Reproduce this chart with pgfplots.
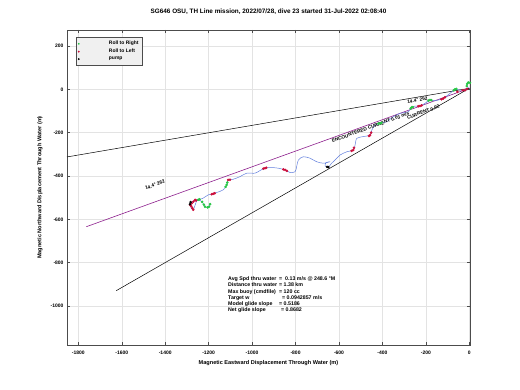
\documentclass[border=0pt]{standalone}
\usepackage{pgfplots}
\pgfplotsset{compat=1.18}
\usepackage{fontspec}
\setmainfont{Liberation Sans}
\definecolor{trk}{RGB}{95,125,220}
\definecolor{rollL}{RGB}{205,15,60}
\definecolor{rollR}{RGB}{40,200,70}
\definecolor{purp}{RGB}{140,30,140}
\begin{document}
\begin{tikzpicture}
\begin{axis}[
  at={(0,0)}, anchor=south west,
  scale only axis, width=403bp, height=315bp,
  xmin=-1852, xmax=3, ymin=-1180, ymax=274,
  xtick={-1800,-1600,-1400,-1200,-1000,-800,-600,-400,-200,0},
  ytick={-1000,-800,-600,-400,-200,0,200},
  grid=major, grid style={gray!22, line width=0.4pt},
  axis line style={gray!60!black, line width=0.5pt},
  tick style={gray!60!black, line width=0.4pt},
  tick align=inside, major tick length=3bp,
  ticklabel style={font=\fontsize{5}{6}\selectfont\bfseries},
  /pgf/number format/assume math mode=true,
  /pgf/number format/1000 sep={},
  xticklabel style={yshift=-2.5bp},
  title={SG646 OSU, TH Line mission, 2022/07/28, dive 23 started 31-Jul-2022 02:08:40},
  title style={at={(axis description cs:0.5,1.038)}, anchor=center, font=\fontsize{6.4}{7}\selectfont\bfseries},
  xlabel={Magnetic Eastward Displacement Through Water (m)},
  xlabel style={at={(axis description cs:0.5,-0.056)}, anchor=center, font=\fontsize{5.6}{6}\selectfont\bfseries},
  ylabel={Magnetic Northward Displacement Through Water (m)},
  ylabel style={at={(axis description cs:-0.067,0.5)}, anchor=center, rotate=0, font=\fontsize{5.6}{6}\selectfont\bfseries},
  legend style={at={(rel axis cs:0.022,0.977)}, anchor=north west, fill=gray!12, draw=gray!60!black,
    font=\fontsize{5}{5.5}\selectfont\bfseries, row sep=-1.2pt, inner xsep=2bp, inner ysep=1.8bp},
  legend cell align=left,
  legend image code/.code={\node[draw=none, fill=none, inner sep=0pt, minimum width=28bp, minimum height=2bp] at (14bp,0bp) {}; \draw[#1] plot coordinates {(14bp,0bp)};},
]
\addlegendimage{only marks, mark=*, mark size=0.7pt, rollR}
\addlegendentry{Roll to Right}
\addlegendimage{only marks, mark=*, mark size=0.7pt, rollL}
\addlegendentry{Roll to Left}
\addlegendimage{only marks, mark=*, mark size=0.7pt, black}
\addlegendentry{pump\hspace{15bp}}

% reference lines
\addplot[black, line width=0.5pt, forget plot] coordinates {(0,5) (-1852,-312)};
\addplot[purp, line width=0.6pt, forget plot] coordinates {(0,5) (-1763,-634)};
\addplot[black, line width=0.5pt, forget plot] coordinates {(0,5) (-1625,-929)};

% track
\addplot[trk, line width=0.5pt, smooth, tension=0.5, forget plot] coordinates {
(5,12) (8,22) (3,30) (-5,32) (-10,25) (-12,15) (-5,9)
(-20,-3) (-42.8,-3.2) (-65.8,0) (-88.9,-18.4) (-119.7,-41.5) (-158,-52.5) (-181,-49.3)
(-204,-64.5) (-227,-77) (-250,-77) (-265,-83) (-281,-103) (-319,-111) (-350,-126)
(-380,-149) (-411,-157) (-434,-165) (-449,-188) (-457,-211) (-488,-218) (-518,-226)
(-526,-257) (-534,-280) (-564,-288) (-595,-303) (-618,-326) (-634,-341) (-649,-359)
(-664,-353) (-659,-338) (-641,-334) (-672,-341) (-703,-334) (-733,-318) (-764,-311)
(-787,-326) (-795,-357) (-802,-380) (-825,-384) (-848,-372) (-879,-364) (-910,-361)
(-941,-364) (-964,-375) (-987,-387) (-1025,-387) (-1056,-403) (-1087,-415) (-1110,-418)
(-1117,-441) (-1133,-464) (-1163,-476) (-1179,-482) (-1202,-487) (-1225,-502) (-1248,-510)
(-1262,-510) (-1285,-533) (-1271,-556) (-1253,-512) (-1230,-519) (-1217,-542) (-1198,-542) (-1193,-524)
};

% roll to right
\addplot[only marks, mark=*, mark size=1.1pt, rollR, draw=none, forget plot] coordinates {
(5,12) (8,22) (3,30) (-5,32) (-10,25) (-12,15)
(-60,2) (-66,0) (-72,-4)
(-175,-50) (-181,-49) (-188,-52)
(-260,-82) (-265,-83) (-270,-88)
(-405,-155) (-411,-157) (-418,-159)
(-1114,-430) (-1117,-441) (-1122,-450)
(-1242,-507) (-1248,-510)
(-1230,-519) (-1222,-532) (-1217,-542) (-1205,-545) (-1198,-542) (-1193,-530)
};
% roll to left
\addplot[only marks, mark=*, mark size=1.1pt, rollL, draw=none, forget plot] coordinates {
(-10,2) (-20,-4) (-30,-4) (-55,-12)
(-112,-36) (-120,-42) (-128,-46)
(-220,-74) (-227,-77) (-235,-78)
(-452,-200) (-457,-211) (-462,-215)
(-531,-270) (-534,-280) (-542,-284)
(-840,-376) (-848,-372) (-856,-369)
(-935,-362) (-941,-364) (-948,-366)
(-1102,-417) (-1110,-418)
(-1172,-480) (-1179,-482) (-1186,-484)
(-1258,-513) (-1262,-510) (-1270,-518) (-1278,-526) (-1285,-533) (-1280,-540) (-1275,-548) (-1271,-556)
};
% pump
\addplot[only marks, mark=*, mark size=1.1pt, black, forget plot] coordinates {
(-649,-359) (-655,-358) (-1283,-520) (-1286,-530)
};

\node[rotate=19.8, font=\fontsize{4.8}{5}\selectfont\bfseries] at (axis cs:-1447,-441) {14.4° 262};
\node[rotate=9.6, font=\fontsize{4.8}{5}\selectfont\bfseries] at (axis cs:-239,-50) {14.4° 262};
\node[rotate=19.9, font=\fontsize{4.8}{5}\selectfont\bfseries] at (axis cs:-455,-175) {ENCOUNTERED CURRENT 0.03 m/s};
\node[rotate=19.9, font=\fontsize{4.8}{5}\selectfont\bfseries] at (axis cs:-212,-105) {CURRENT 0.02};

\node[anchor=north west, inner sep=0pt, font=\fontsize{5.3}{7}\selectfont\bfseries] at (axis cs:-1111,-860) {%
\begin{tabular}{@{}l@{\hspace{2bp}}l@{}}
Avg Spd thru water & =\ \ 0.13 m/s @ 248.6 °M\\[-0.8pt]
Distance thru water & = 1.38 km\\[-0.8pt]
Max buoy (cmdfile) & = 120 cc\\[-0.8pt]
Target w & \hspace{3bp}= 0.0942857 m/s\\[-0.8pt]
Model glide slope & = 0.5186\\[-0.8pt]
Net glide slope & \hspace{2bp}= 0.8682
\end{tabular}};
\end{axis}
\path[use as bounding box] (-67bp,-45bp) rectangle (453bp,345bp);
\end{tikzpicture}
\end{document}
